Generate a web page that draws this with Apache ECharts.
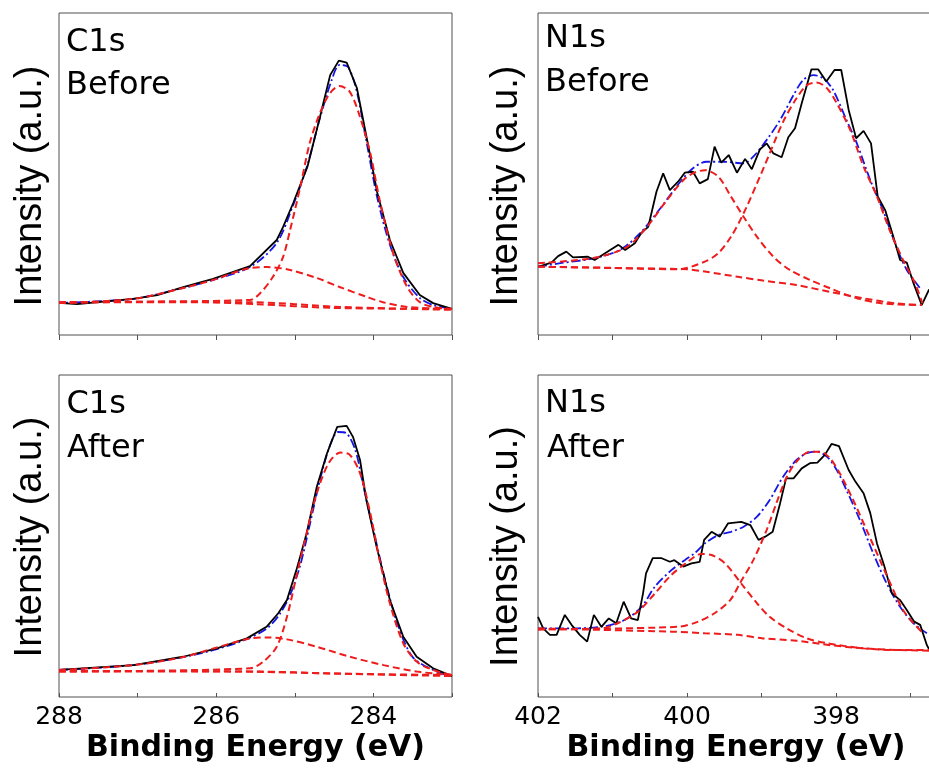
<!DOCTYPE html>
<html>
<head>
<meta charset="utf-8">
<script src="https://cdn.jsdelivr.net/npm/echarts@6/dist/echarts.min.js"></script>
<style>html,body{margin:0;padding:0;background:#fff;}#chart{width:929px;height:769px;}</style>
</head>
<body>
<div id="chart"></div>
<script>
// ---- Tick labels / axis ranges ----
const c1sRange = [283, 288];
const n1sRange = [396, 402];
const xTitle = 'Binding Energy (eV)';
const yTitle = 'Intensity (a.u.)';
const panelLabels = [['C1s', 'Before'], ['N1s', 'Before'], ['C1s', 'After'], ['N1s', 'After']];

// ---- C1s Before ----
const c1sBeforeData = [[288.0,10.0],[287.77,9.6],[287.06,11.2],[286.75,12.4],[286.42,14.9],[286.04,17.4],[285.57,21.4],[285.23,29.5],[285.15,33.5],[285.02,41.0],[284.84,52.2],[284.68,67.7],[284.55,80.7],[284.44,85.2],[284.34,84.6],[284.21,76.7],[284.08,60.6],[283.95,44.1],[283.79,29.5],[283.62,19.3],[283.41,12.4],[283.24,9.9],[283.0,8.1]];
const c1sBeforeFit = [[288.0,10.0],[287.06,11.2],[286.42,14.6],[286.04,17.1],[285.57,21.1],[285.23,28.6],[285.02,40.4],[284.84,52.8],[284.68,67.4],[284.53,79.2],[284.43,83.9],[284.32,83.2],[284.21,75.5],[284.08,59.0],[283.95,42.5],[283.79,28.0],[283.62,18.0],[283.41,11.5],[283.24,9.3],[283.0,8.1]];
const c1sBeforePeakA = [[288.0,10.2],[285.57,10.9],[285.44,13.0],[285.28,18.0],[285.15,24.2],[285.06,32.6],[284.93,46.0],[284.81,59.6],[284.68,68.9],[284.55,75.2],[284.43,77.3],[284.30,75.5],[284.17,67.7],[284.04,56.5],[283.92,41.9],[283.75,25.5],[283.57,14.9],[283.41,10.2],[283.24,8.7],[283.0,8.1]];
const c1sBeforePeakB = [[288.0,9.9],[287.06,11.2],[286.42,14.6],[286.04,17.1],[285.57,20.8],[285.35,21.1],[285.06,20.2],[284.72,17.7],[284.43,14.9],[284.08,11.8],[283.88,10.2],[283.57,8.7],[283.0,8.1]];
const c1sBeforeBgA = [[288.0,10.2],[285.6,10.2],[284.4,8.7],[283.0,7.8]];
const c1sBeforeBgB = [[288.0,10.0],[286.5,10.4],[285.5,9.6],[284.5,8.4],[283.0,8.1]];

// ---- N1s Before ----
const n1sBeforeData = [[402.0,21.2],[401.82,22.5],[401.73,24.5],[401.62,25.9],[401.53,24.1],[401.33,24.3],[401.24,23.3],[401.10,25.4],[400.92,28.0],[400.83,26.4],[400.70,28.5],[400.61,31.8],[400.52,33.6],[400.41,44.5],[400.32,50.2],[400.23,45.0],[400.12,47.6],[400.03,50.4],[399.92,50.7],[399.83,47.1],[399.72,48.4],[399.63,58.5],[399.54,53.5],[399.44,55.9],[399.33,50.4],[399.22,54.7],[399.13,51.5],[399.02,57.7],[398.93,59.5],[398.84,56.4],[398.73,55.2],[398.64,61.4],[398.55,64.2],[398.46,72.0],[398.33,82.5],[398.24,82.5],[398.13,78.7],[398.02,82.3],[397.93,82.3],[397.83,69.9],[397.73,61.1],[397.63,63.4],[397.53,59.5],[397.44,43.0],[397.34,38.8],[397.23,30.5],[397.14,23.3],[397.05,22.5],[396.96,16.1],[396.85,9.3],[396.75,14.2]];
const n1sBeforeFit = [[402.0,21.2],[401.70,22.3],[401.26,23.8],[400.90,26.4],[400.63,31.6],[400.36,39.3],[400.09,47.6],[399.92,51.8],[399.74,53.8],[399.51,53.8],[399.24,53.3],[399.11,55.4],[398.93,60.6],[398.75,66.8],[398.57,74.5],[398.44,79.2],[398.30,80.7],[398.17,79.7],[398.04,76.1],[397.86,66.8],[397.72,59.5],[397.54,48.1],[397.37,38.8],[397.19,27.4],[397.05,20.2],[396.87,14.5]];
const n1sBeforePeakA = [[402.0,22.3],[401.26,23.9],[400.81,27.3],[400.54,33.5],[400.27,41.9],[400.0,49.1],[399.76,51.2],[399.58,49.2],[399.41,43.0],[399.24,36.7],[399.06,30.5],[398.84,24.3],[398.62,20.2],[398.35,17.1],[398.08,14.5],[397.72,11.4],[397.37,9.8],[396.85,9.3]];
const n1sBeforePeakB = [[402.0,21.2],[401.10,20.9],[400.12,20.4],[399.76,22.8],[399.58,25.4],[399.41,30.5],[399.24,37.8],[399.06,47.1],[398.89,56.4],[398.71,66.2],[398.53,73.5],[398.39,77.6],[398.26,78.4],[398.12,76.6],[397.99,72.0],[397.81,63.7],[397.63,52.3],[397.45,43.0],[397.28,32.6],[397.10,23.3],[396.94,16.1],[396.84,9.8]];
const n1sBeforeBg = [[402.0,21.2],[401.0,20.8],[400.0,20.4],[399.76,19.7],[399.32,18.1],[398.98,16.9],[398.53,15.5],[398.08,13.4],[397.63,11.4],[397.19,9.8],[396.85,9.3]];

// ---- C1s After ----
const c1sAfterData = [[288.0,8.4],[287.05,9.9],[286.42,12.5],[285.99,15.1],[285.61,18.2],[285.36,21.8],[285.21,26.0],[285.10,30.1],[284.98,39.4],[284.85,50.8],[284.72,65.3],[284.59,75.7],[284.46,83.9],[284.34,84.2],[284.26,80.8],[284.17,73.6],[284.09,61.2],[283.96,46.7],[283.79,30.1],[283.62,18.7],[283.45,12.5],[283.24,8.9],[283.0,6.5]];
const c1sAfterFit = [[288.0,8.4],[287.06,9.9],[286.42,12.4],[285.99,14.9],[285.61,18.0],[285.35,21.4],[285.19,25.8],[285.06,31.7],[284.93,41.0],[284.81,53.4],[284.68,67.4],[284.55,78.3],[284.45,82.3],[284.35,82.0],[284.23,76.7],[284.13,65.8],[284.0,51.9],[283.85,36.3],[283.69,22.4],[283.50,12.4],[283.24,8.4],[283.0,6.2]];
const c1sAfterPeakA = [[288.0,7.9],[285.57,8.9],[285.40,11.0],[285.23,15.6],[285.10,24.9],[284.98,37.4],[284.85,50.8],[284.72,63.3],[284.57,72.6],[284.42,75.9],[284.30,75.2],[284.17,69.5],[284.04,57.1],[283.92,42.5],[283.79,29.1],[283.62,16.7],[283.45,11.0],[283.24,8.4],[283.0,6.8]];
const c1sAfterPeakB = [[288.0,8.4],[287.06,9.9],[286.42,12.4],[285.99,15.4],[285.57,18.2],[285.36,18.5],[285.10,17.9],[284.72,15.6],[284.30,12.5],[283.87,9.9],[283.45,7.9],[283.0,6.8]];
const c1sAfterBgA = [[288.0,7.9],[285.5,7.9],[284.5,7.3],[283.0,6.8]];
const c1sAfterBgB = [[288.0,8.1],[286.0,8.0],[284.0,7.0],[283.0,6.5]];

// ---- N1s After ----
const n1sAfterData = [[402.0,24.9],[401.93,21.3],[401.84,19.3],[401.75,19.3],[401.64,25.5],[401.55,22.4],[401.44,19.3],[401.34,17.2],[401.25,25.5],[401.15,21.8],[401.05,24.4],[400.95,22.9],[400.85,29.6],[400.75,24.4],[400.66,23.9],[400.59,32.2],[400.55,38.4],[400.46,43.1],[400.34,43.1],[400.23,42.0],[400.17,42.5],[400.05,40.5],[399.94,41.5],[399.83,42.0],[399.77,48.8],[399.67,51.3],[399.56,49.8],[399.45,53.9],[399.27,54.4],[399.15,53.4],[399.04,48.8],[398.95,49.8],[398.85,51.3],[398.75,60.2],[398.67,67.9],[398.57,67.9],[398.46,71.0],[398.35,72.6],[398.25,72.8],[398.15,75.2],[398.06,78.6],[397.96,77.9],[397.83,70.5],[397.74,66.9],[397.63,63.3],[397.54,57.1],[397.45,47.7],[397.35,40.5],[397.25,32.2],[397.14,30.1],[397.05,27.0],[396.95,23.4],[396.87,22.4],[396.78,16.1],[396.75,14.8]];
const n1sAfterFit = [[402.0,21.3],[401.55,21.3],[401.10,22.0],[400.84,23.9],[400.61,28.0],[400.43,34.3],[400.21,39.4],[400.03,42.5],[399.90,44.6],[399.76,47.7],[399.58,50.3],[399.41,51.3],[399.24,52.9],[399.06,56.0],[398.89,61.2],[398.71,68.4],[398.53,73.6],[398.39,75.7],[398.26,76.2],[398.12,74.6],[397.99,70.5],[397.86,64.3],[397.68,55.0],[397.50,44.6],[397.32,35.3],[397.14,28.0],[396.96,22.9],[396.78,19.8]];
const n1sAfterPeakA = [[402.0,21.0],[401.15,21.3],[400.93,22.9],[400.66,26.5],[400.43,32.2],[400.21,37.9],[399.99,42.0],[399.81,44.4],[399.67,44.1],[399.49,41.5],[399.24,34.3],[399.06,29.1],[398.89,24.9],[398.66,21.3],[398.39,18.2],[398.12,16.7],[397.63,15.1],[397.19,14.6],[396.75,14.6]];
const n1sAfterPeakB = [[402.0,21.0],[400.12,21.8],[399.85,23.4],[399.63,26.0],[399.42,30.1],[399.29,35.3],[399.11,42.5],[398.93,51.9],[398.80,60.2],[398.66,68.4],[398.53,73.1],[398.35,76.2],[398.21,76.2],[398.08,74.1],[397.95,69.5],[397.77,61.2],[397.59,51.9],[397.41,42.5],[397.23,33.2],[397.10,27.0],[396.96,22.9],[396.83,19.8]];
const n1sAfterBg = [[402.0,21.3],[400.21,20.3],[399.76,19.8],[399.32,19.3],[398.98,18.2],[398.53,17.5],[398.08,16.1],[397.63,15.1],[397.19,14.6],[396.75,14.4]];

// ---- build ----
const RED = '#ee1c1c', BLUE = '#1515e6', BLACK = '#000000', FRAME = '#505050';
const TXT = '"DejaVu Sans", sans-serif';

const grids = [
  {left: 59, top: 13, width: 393, height: 322},
  {left: 538, top: 13, width: 447, height: 322},
  {left: 59, top: 375, width: 393, height: 322},
  {left: 538, top: 375, width: 447, height: 322}
].map(g => Object.assign({show: true, borderColor: FRAME, borderWidth: 1, backgroundColor: 'transparent',
  containLabel: false, outerBoundsMode: 'none'}, g));

function xAx(i, range, bottom, namePad) {
  return {
    type: 'value', gridIndex: i, inverse: true, min: range[0], max: range[1], interval: 1,
    axisLine: {show: false},
    axisTick: {show: true, inside: bottom, length: bottom ? 4 : 5, lineStyle: {color: FRAME, width: 1}},
    axisLabel: {show: bottom, margin: 8, color: '#000', fontFamily: TXT, fontSize: 25,
      formatter: v => (Math.round(v) % 2 === 0 ? String(Math.round(v)) : '')},
    splitLine: {show: false},
    name: bottom ? xTitle : '', nameLocation: 'middle', nameGap: 36,
    nameTextStyle: {color: '#000', fontFamily: TXT, fontWeight: 'bold', fontSize: 30, padding: namePad || 0}
  };
}
function yAx(i) {
  return {type: 'value', gridIndex: i, min: 0, max: 100, axisLine: {show: false}, axisTick: {show: false},
    axisLabel: {show: false}, splitLine: {show: false}};
}

function ln(i, data, kind) {
  const s = {type: 'line', xAxisIndex: i, yAxisIndex: i, data: data, showSymbol: false, symbol: 'none', silent: true, animation: false};
  if (kind === 'data') { s.lineStyle = {color: BLACK, width: 1.8}; s.z = 4; }
  else if (kind === 'fit') { s.lineStyle = {color: BLUE, width: 1.8, type: [9, 3, 2, 3]}; s.smooth = 0.3; s.z = 3; }
  else { s.lineStyle = {color: RED, width: 2, type: [7, 4]}; s.smooth = 0.3; s.z = 5; }
  return s;
}

const series = [
  ln(0, c1sBeforeBgA, 'c'), ln(0, c1sBeforeBgB, 'c'), ln(0, c1sBeforeData, 'data'), ln(0, c1sBeforeFit, 'fit'), ln(0, c1sBeforePeakA, 'c'), ln(0, c1sBeforePeakB, 'c'),
  ln(1, n1sBeforeBg, 'c'), ln(1, n1sBeforeData, 'data'), ln(1, n1sBeforeFit, 'fit'), ln(1, n1sBeforePeakA, 'c'), ln(1, n1sBeforePeakB, 'c'),
  ln(2, c1sAfterBgA, 'c'), ln(2, c1sAfterBgB, 'c'), ln(2, c1sAfterData, 'data'), ln(2, c1sAfterFit, 'fit'), ln(2, c1sAfterPeakA, 'c'), ln(2, c1sAfterPeakB, 'c'),
  ln(3, n1sAfterBg, 'c'), ln(3, n1sAfterData, 'data'), ln(3, n1sAfterFit, 'fit'), ln(3, n1sAfterPeakA, 'c'), ln(3, n1sAfterPeakB, 'c')
];

function label(text, x, y) {
  return {type: 'text', x: x, y: y, silent: true, z: 10,
    style: {text: text, fill: '#000', fontFamily: TXT, fontSize: 32, align: 'left', verticalAlign: 'middle'}};
}
function ylabel(x, y) {
  return {type: 'text', x: x, y: y, rotation: Math.PI / 2, silent: true, z: 10,
    style: {text: yTitle, fill: '#000', fontFamily: '"Liberation Sans", Arial, sans-serif', fontSize: 38, align: 'center', verticalAlign: 'middle'}};
}

const graphic = [
  label(panelLabels[0][0], 66, 42.5), label(panelLabels[0][1], 66, 86),
  label(panelLabels[1][0], 545, 39), label(panelLabels[1][1], 545, 82.5),
  label(panelLabels[2][0], 66.5, 405), label(panelLabels[2][1], 67, 449),
  label(panelLabels[3][0], 545, 403.5), label(panelLabels[3][1], 547, 449),
  ylabel(31, 186), ylabel(507, 186), ylabel(31, 537), ylabel(507, 546.5)
];

const chart = echarts.init(document.getElementById('chart'), null, {renderer: 'canvas'});
chart.setOption({
  animation: false,
  backgroundColor: '#fff',
  grid: grids,
  xAxis: [xAx(0, c1sRange, false), xAx(1, n1sRange, false), xAx(2, c1sRange, true), xAx(3, n1sRange, true, [0, 51, 0, 0])],
  yAxis: [yAx(0), yAx(1), yAx(2), yAx(3)],
  series: series,
  graphic: graphic
});
</script>
</body>
</html>
